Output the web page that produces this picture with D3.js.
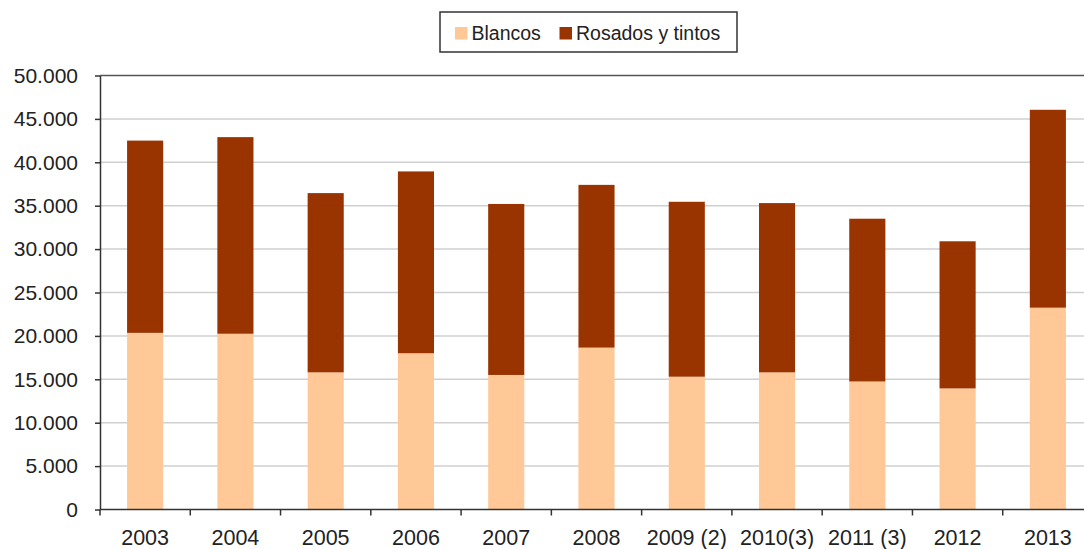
<!DOCTYPE html>
<html>
<head>
<meta charset="utf-8">
<script src="https://cdn.jsdelivr.net/npm/d3@7"></script>
<style>
  body { margin: 0; background: #fff; }
  svg { display: block; font-family: "Liberation Sans", Arial, sans-serif; }
</style>
</head>
<body>
<div id="chart"></div>
<script>
// Datos (miles de hl)
const years = ["2003", "2004", "2005", "2006", "2007", "2008", "2009 (2)", "2010(3)", "2011 (3)", "2012", "2013"];
const blancos = [20350, 20250, 15800, 18000, 15500, 18650, 15300, 15800, 14750, 13950, 23250];
const rosados = [22150, 22650, 20650, 20950, 19700, 18750, 20150, 19500, 18750, 16950, 22800];
const yTicks = [0, 5000, 10000, 15000, 20000, 25000, 30000, 35000, 40000, 45000, 50000];
const seriesNames = ["Blancos", "Rosados y tintos"];

const W = 1084, H = 549;
const plotLeft = 100, plotTop = 75.5, plotBottom = 509.5, plotRight = 1093;

const colors = { blancos: "#ffc896", rosados: "#993300" };

const svg = d3.select("#chart").append("svg")
    .attr("width", W).attr("height", H);

const x = d3.scaleBand().domain(years).range([plotLeft, plotRight]).paddingInner(0.6).paddingOuter(0.3);
const y = d3.scaleLinear().domain([0, 50000]).range([plotBottom, plotTop]);

// lineas de cuadricula
svg.append("g").selectAll("line")
    .data(yTicks.filter(d => d > 0 && d < 50000))
    .join("line")
    .attr("x1", plotLeft).attr("x2", W)
    .attr("y1", d => y(d)).attr("y2", d => y(d))
    .attr("stroke", "#d0d0d0").attr("stroke-width", 1.5);

// borde superior
svg.append("line")
    .attr("x1", plotLeft).attr("x2", W)
    .attr("y1", y(50000)).attr("y2", y(50000))
    .attr("stroke", "#555").attr("stroke-width", 1.5);

// barras apiladas
const data = years.map((yr, i) => ({ year: yr, blancos: blancos[i], rosados: rosados[i] }));
const stack = d3.stack().keys(["blancos", "rosados"])(data);

svg.append("g").selectAll("g")
    .data(stack)
    .join("g")
    .attr("fill", d => colors[d.key])
    .selectAll("rect")
    .data(d => d)
    .join("rect")
    .attr("x", d => x(d.data.year))
    .attr("width", x.bandwidth())
    .attr("y", d => y(d[1]))
    .attr("height", d => y(d[0]) - y(d[1]));

// eje Y
const yAxis = svg.append("g")
    .attr("transform", `translate(${plotLeft},0)`)
    .call(d3.axisLeft(y).tickValues(yTicks).tickSize(5).tickSizeOuter(0).tickPadding(17)
        .tickFormat(d => d3.format(",")(d).replace(/,/g, ".")));
yAxis.select(".domain").attr("stroke", "#333").attr("stroke-width", 1.5);
yAxis.selectAll(".tick line").attr("stroke", "#333").attr("stroke-width", 1.5);
yAxis.selectAll("text")
    .attr("fill", "#222")
    .style("font-size", "21px");

// eje X
const step = x.step();
svg.append("line")
    .attr("x1", plotLeft).attr("x2", W)
    .attr("y1", plotBottom).attr("y2", plotBottom)
    .attr("stroke", "#333").attr("stroke-width", 1.5);
svg.append("g").selectAll("line")
    .data(years)
    .join("line")
    .attr("x1", d => x(d) + x.bandwidth() / 2 - step / 2)
    .attr("x2", d => x(d) + x.bandwidth() / 2 - step / 2)
    .attr("y1", plotBottom).attr("y2", plotBottom + 6)
    .attr("stroke", "#333").attr("stroke-width", 1.5);
svg.append("g").selectAll("text")
    .data(years)
    .join("text")
    .attr("x", d => x(d) + x.bandwidth() / 2)
    .attr("y", 545)
    .attr("text-anchor", "middle")
    .attr("fill", "#222")
    .style("font-size", "21.5px")
    .text(d => d);

// leyenda
const legend = svg.append("g");
legend.append("rect")
    .attr("x", 440).attr("y", 12).attr("width", 297).attr("height", 40)
    .attr("fill", "#fff").attr("stroke", "#333").attr("stroke-width", 1.5);

const legendItems = [
    { name: seriesNames[0], color: colors.blancos, x: 455 },
    { name: seriesNames[1], color: colors.rosados, x: 559.5 }
];
legendItems.forEach(it => {
    legend.append("rect")
        .attr("x", it.x).attr("y", 27).attr("width", 12.5).attr("height", 12.5)
        .attr("fill", it.color);
    legend.append("text")
        .attr("x", it.x + 16.5).attr("y", 40)
        .attr("fill", "#222")
        .style("font-size", "19.5px")
        .text(it.name);
});
</script>
</body>
</html>
